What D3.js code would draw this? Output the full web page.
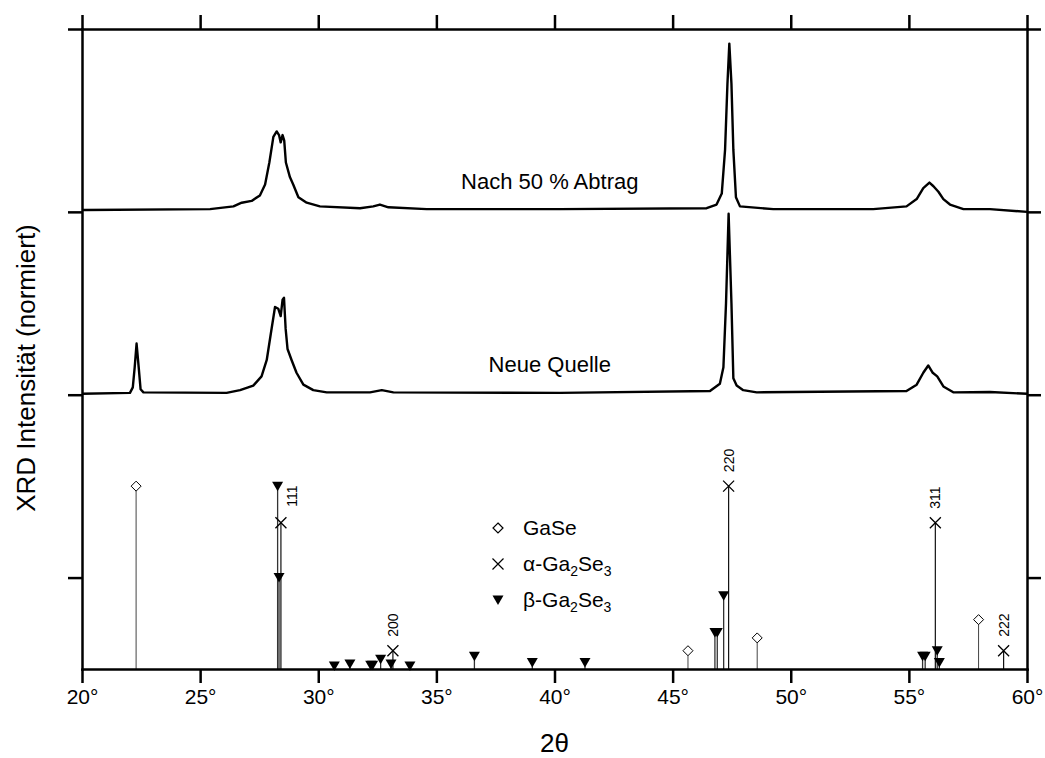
<!DOCTYPE html>
<html>
<head>
<meta charset="utf-8">
<script src="https://cdn.jsdelivr.net/npm/d3@7"></script>
<style>
  body { margin: 0; background: #fff; }
  svg text { font-family: "Liberation Sans", Arial, sans-serif; fill: #000; }
</style>
</head>
<body>
<div id="chart"></div>
<script>
// measured traces, intensity normalised to each trace's own maximum
const nachTheta = [20.0, 20.13, 25.42, 26.41, 26.76, 27.18, 27.53, 27.75, 27.93, 28.10, 28.24, 28.34, 28.41, 28.49, 28.56, 28.63, 28.80, 28.94, 29.16, 29.51, 30.07, 31.77, 32.33, 32.61, 32.97, 34.59, 40.23, 46.44, 46.86, 47.08, 47.22, 47.32, 47.40, 47.49, 47.57, 47.68, 47.85, 49.26, 53.49, 54.90, 55.33, 55.61, 55.87, 56.04, 56.25, 56.46, 56.74, 57.31, 58.43, 60.0];
const nachInt = [0.01, 0.01, 0.015, 0.03, 0.05, 0.06, 0.09, 0.15, 0.27, 0.41, 0.44, 0.42, 0.38, 0.42, 0.39, 0.27, 0.19, 0.15, 0.08, 0.05, 0.03, 0.02, 0.03, 0.04, 0.025, 0.015, 0.015, 0.02, 0.04, 0.10, 0.34, 0.70, 0.92, 0.70, 0.34, 0.08, 0.03, 0.015, 0.015, 0.03, 0.07, 0.13, 0.16, 0.14, 0.11, 0.07, 0.04, 0.015, 0.015, 0.0];

const neueTheta = [20.0, 22.03, 22.15, 22.23, 22.31, 22.40, 22.48, 22.60, 26.12, 26.69, 27.25, 27.60, 27.82, 28.00, 28.17, 28.31, 28.41, 28.49, 28.55, 28.62, 28.70, 28.87, 29.08, 29.37, 29.79, 30.36, 32.19, 32.69, 33.18, 40.23, 46.58, 47.00, 47.15, 47.26, 47.37, 47.49, 47.57, 47.71, 47.99, 48.56, 54.90, 55.33, 55.61, 55.82, 56.01, 56.20, 56.46, 56.88, 58.43, 60.0];
const neueInt = [0.005, 0.01, 0.04, 0.15, 0.28, 0.15, 0.03, 0.013, 0.01, 0.025, 0.05, 0.10, 0.19, 0.34, 0.48, 0.47, 0.43, 0.52, 0.53, 0.36, 0.25, 0.19, 0.12, 0.055, 0.025, 0.013, 0.013, 0.025, 0.013, 0.01, 0.02, 0.06, 0.15, 0.50, 0.99, 0.50, 0.09, 0.05, 0.025, 0.013, 0.02, 0.055, 0.12, 0.16, 0.12, 0.10, 0.045, 0.013, 0.015, 0.005];

const traceNames = ["Nach 50 % Abtrag", "Neue Quelle"];
const traceOffsets = [2.5, 1.5];

// reference reflections (2theta, relative intensity)
const gaseTheta = [22.29, 45.65, 48.58, 57.95];
const gaseInt = [1.0, 0.10, 0.17, 0.27];

const alphaTheta = [28.42, 33.16, 47.37, 56.12, 59.01];
const alphaInt = [0.80, 0.10, 1.0, 0.80, 0.10];
const alphaHkl = ["111", "200", "220", "311", "222"];

const betaTheta = [28.28, 28.34, 30.68, 31.34, 32.22, 32.30, 32.64, 33.08, 33.88, 36.61, 39.06, 41.29, 46.79, 46.89, 47.16, 55.58, 55.69, 56.20, 56.29];
const betaInt = [1.0, 0.5, 0.016, 0.027, 0.02, 0.02, 0.053, 0.027, 0.016, 0.07, 0.035, 0.035, 0.2, 0.2, 0.40, 0.07, 0.07, 0.10, 0.035];

const xTicks = [20, 25, 30, 35, 40, 45, 50, 55, 60];
const yTicks = [0.5, 1.5, 2.5, 3.5];

const width = 1045, height = 758;
const margin = {top: 29, right: 18, bottom: 89, left: 82};

const svg = d3.select("#chart").append("svg")
  .attr("width", width)
  .attr("height", height);

const x = d3.scaleLinear().domain([20, 60]).range([margin.left, width - margin.right]);
const y = d3.scaleLinear().domain([0, 3.5]).range([height - margin.bottom, margin.top]);

// traces
const line = d3.line().x(d => x(d[0])).y(d => y(d[1]));
const traces = [
  d3.zip(nachTheta, nachInt).map(d => [d[0], d[1] + traceOffsets[0]]),
  d3.zip(neueTheta, neueInt).map(d => [d[0], d[1] + traceOffsets[1]])
];
svg.selectAll(".trace")
  .data(traces)
  .enter().append("path")
  .attr("class", "trace")
  .attr("d", line)
  .attr("fill", "none")
  .attr("stroke", "#000")
  .attr("stroke-width", 2.4)
  .attr("stroke-linejoin", "round");

svg.selectAll(".trace-label")
  .data(traceNames)
  .enter().append("text")
  .attr("class", "trace-label")
  .attr("x", x(39.8))
  .attr("y", (d, i) => y(traceOffsets[i]) - 23)
  .attr("text-anchor", "middle")
  .style("font-size", "22px")
  .text(d => d);

// reference sticks: the pattern sits from 0 to 1 on the y scale
const refBase = 0;
const diamond = "M0,-5L5,0L0,5L-5,0Z";
const cross = "M-5.5,-5.5L5.5,5.5M-5.5,5.5L5.5,-5.5";
const triangle = "M-5.5,-4.5L5.5,-4.5L0,5Z";

function sticks(cls, thetas, ints, color, w) {
  svg.selectAll("." + cls)
    .data(d3.zip(thetas, ints))
    .enter().append("line")
    .attr("class", cls)
    .attr("x1", d => x(d[0])).attr("x2", d => x(d[0]))
    .attr("y1", y(refBase)).attr("y2", d => y(refBase + d[1]))
    .attr("stroke", color)
    .attr("stroke-width", w);
}
sticks("gase-stick", gaseTheta, gaseInt, "#444", 1);
sticks("beta-stick", betaTheta, betaInt, "#333", 1.3);
sticks("alpha-stick", alphaTheta, alphaInt, "#111", 1.2);

svg.selectAll(".beta-mark")
  .data(d3.zip(betaTheta, betaInt))
  .enter().append("path")
  .attr("class", "beta-mark")
  .attr("transform", d => `translate(${x(d[0])},${y(refBase + d[1])})`)
  .attr("d", triangle)
  .attr("fill", "#000");

svg.selectAll(".gase-mark")
  .data(d3.zip(gaseTheta, gaseInt))
  .enter().append("path")
  .attr("class", "gase-mark")
  .attr("transform", d => `translate(${x(d[0])},${y(refBase + d[1])})`)
  .attr("d", diamond)
  .attr("fill", "#fff")
  .attr("stroke", "#000")
  .attr("stroke-width", 1);

svg.selectAll(".alpha-mark")
  .data(d3.zip(alphaTheta, alphaInt))
  .enter().append("path")
  .attr("class", "alpha-mark")
  .attr("transform", d => `translate(${x(d[0])},${y(refBase + d[1])})`)
  .attr("d", cross)
  .attr("fill", "none")
  .attr("stroke", "#000")
  .attr("stroke-width", 1.3);

// hkl labels, 111 is pushed aside by the beta marker above it
const hklShift = {"111": [11, -2]};
svg.selectAll(".hkl")
  .data(d3.zip(alphaTheta, alphaInt, alphaHkl))
  .enter().append("text")
  .attr("class", "hkl")
  .attr("transform", d => {
    const s = hklShift[d[2]] || [0, 0];
    return `translate(${x(d[0]) + 5 + s[0]},${y(refBase + d[1]) - 14 + s[1]}) rotate(-90)`;
  })
  .style("font-size", "14px")
  .text(d => d[2]);

// legend
const legendX = 498, legendY = 528, legendGap = 36;
const legendItems = [
  {sym: diamond, fill: "#fff", stroke: "#000"},
  {sym: cross, fill: "none", stroke: "#000"},
  {sym: triangle, fill: "#000", stroke: "none"}
];
const legend = svg.append("g");
legend.selectAll("path")
  .data(legendItems)
  .enter().append("path")
  .attr("transform", (d, i) => `translate(${legendX},${legendY + i * legendGap})`)
  .attr("d", d => d.sym)
  .attr("fill", d => d.fill)
  .attr("stroke", d => d.stroke)
  .attr("stroke-width", 1.2);

const lt = legend.selectAll("text")
  .data([["", "GaSe"], ["\u03b1", "-Ga"], ["\u03b2", "-Ga"]])
  .enter().append("text")
  .attr("x", legendX + 25)
  .attr("y", (d, i) => legendY + i * legendGap + 7)
  .style("font-size", "21px");
lt.each(function(d, i) {
  const t = d3.select(this);
  if (i === 0) { t.text(d[1]); return; }
  t.append("tspan").text(d[0]);
  t.append("tspan").text(d[1]);
  t.append("tspan").attr("dy", 5).style("font-size", "14px").text("2");
  t.append("tspan").attr("dy", -5).text("Se");
  t.append("tspan").attr("dy", 5).style("font-size", "14px").text("3");
});

// axes
const tickLen = 14;
const axes = [
  svg.append("g").attr("transform", `translate(0,${y(0)})`)
    .call(d3.axisBottom(x).tickValues(xTicks).tickSize(tickLen).tickSizeOuter(0).tickPadding(6).tickFormat(d => d + "°")),
  svg.append("g").attr("transform", `translate(0,${y(3.5)})`)
    .call(d3.axisTop(x).tickValues(xTicks).tickSize(tickLen).tickSizeOuter(0).tickFormat("")),
  svg.append("g").attr("transform", `translate(${x(20)},0)`)
    .call(d3.axisLeft(y).tickValues(yTicks).tickSize(tickLen).tickSizeOuter(0).tickFormat("")),
  svg.append("g").attr("transform", `translate(${x(60)},0)`)
    .call(d3.axisRight(y).tickValues(yTicks).tickSize(tickLen).tickSizeOuter(0).tickFormat(""))
];
axes.forEach(g => {
  g.selectAll("path, line").attr("stroke", "#000").attr("stroke-width", 2.5);
  g.select(".domain").attr("stroke-linecap", "square");
  g.selectAll("text").style("font-size", "21px").style("font-family", "'Liberation Sans', Arial, sans-serif").attr("fill", "#000");
});

svg.append("text")
  .attr("x", (x(20) + x(60)) / 2)
  .attr("y", 752)
  .attr("text-anchor", "middle")
  .style("font-size", "26px")
  .text("2\u03b8");

svg.append("text")
  .attr("transform", `translate(35,368) rotate(-90)`)
  .attr("text-anchor", "middle")
  .style("font-size", "26px")
  .text("XRD Intensität (normiert)");
</script>
</body>
</html>
